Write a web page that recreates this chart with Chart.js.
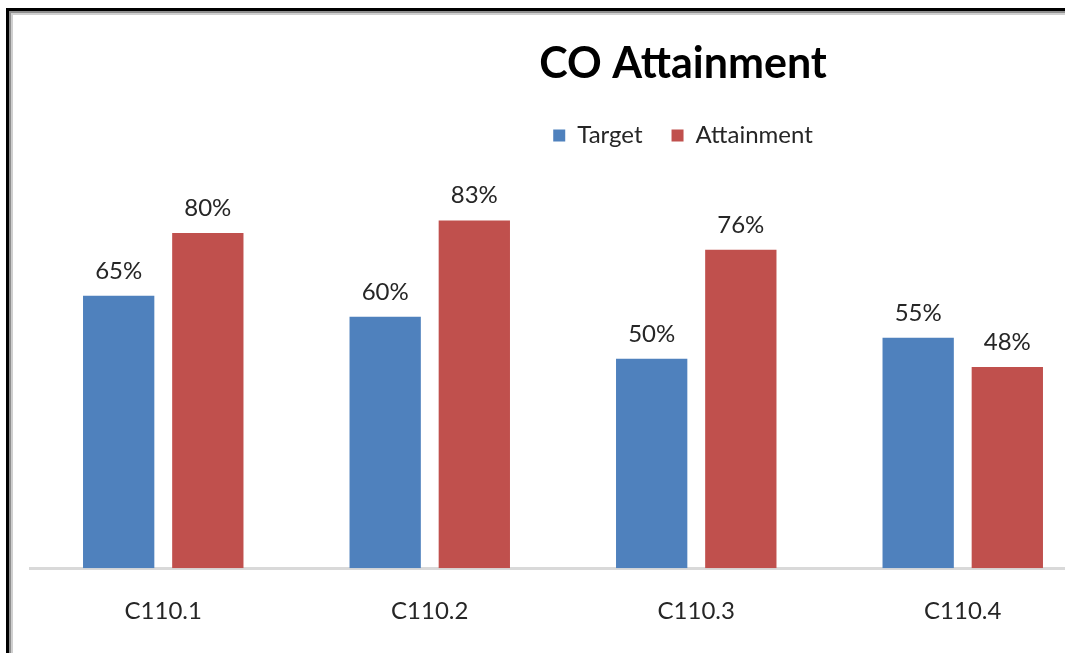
<!DOCTYPE html>
<html>
    <head>
        <title>CO Attainment</title>
        <meta charset="utf-8">
        <style>
            html, body { margin: 0; padding: 0; background: #fff; overflow: hidden; }
            .wrap { position: relative; width: 1065px; height: 653px; overflow: hidden; }
            #coChart { position: absolute; left: 0; top: 0; }
            .frame {
                position: absolute; left: 6px; top: 8px; width: 1200px; height: 800px;
                border-top: 3px solid #000; border-left: 3px solid #000;
                box-shadow: inset 2px 2px 0 #8f8f8f, inset 4px 4px 0 #cfcfcf;
                pointer-events: none;
            }
        </style>
    </head>
    <body>
        <div class="wrap">
            <canvas id="coChart" width="1366" height="655"></canvas>
            <div class="frame"></div>
        </div>
        <script src="https://cdn.jsdelivr.net/npm/chart.js"></script>
        <script>
            const courseOutcomes = ['C110.1', 'C110.2', 'C110.3', 'C110.4'];
            const targetValues = [65, 60, 50, 55];
            const attainmentValues = [80, 83, 76, 48];

            // prints the percent above each bar
            const barLabels = {
                id: 'barLabels',
                afterDatasetsDraw(chart) {
                    const ctx = chart.ctx;
                    ctx.save();
                    ctx.font = '24px Lato';
                    ctx.fillStyle = '#262626';
                    ctx.textAlign = 'center';
                    ctx.textBaseline = 'alphabetic';
                    chart.data.datasets.forEach((ds, i) => {
                        chart.getDatasetMeta(i).data.forEach((bar, j) => {
                            ctx.fillText(ds.data[j] + '%', bar.x, bar.y - 17);
                        });
                    });
                    ctx.restore();
                }
            };

            const coChart = new Chart(document.getElementById('coChart'), {
                type: 'bar',
                data: {
                    labels: courseOutcomes,
                    datasets: [
                        {
                            label: 'Target',
                            data: targetValues,
                            backgroundColor: '#4F81BD',
                            categoryPercentage: 0.669,
                            barPercentage: 0.8
                        },
                        {
                            label: 'Attainment',
                            data: attainmentValues,
                            backgroundColor: '#C0504D',
                            categoryPercentage: 0.669,
                            barPercentage: 0.8
                        }
                    ]
                },
                options: {
                    responsive: false,
                    animation: false,
                    layout: { padding: 0 },
                    plugins: {
                        title: {
                            display: true,
                            text: 'CO Attainment',
                            color: '#000',
                            font: { family: 'Lato', size: 43, weight: 'bold' },
                            padding: { top: 38, bottom: 5 }
                        },
                        legend: {
                            labels: {
                                color: '#262626',
                                font: { family: 'Lato', size: 24 },
                                boxWidth: 12,
                                boxHeight: 12,
                                padding: 29
                            }
                        },
                        tooltip: { enabled: false }
                    },
                    scales: {
                        x: {
                            grid: { display: false, drawTicks: false },
                            border: { display: true, color: '#d9d9d9', width: 3 },
                            ticks: { color: '#262626', font: { family: 'Lato', size: 24 }, padding: 29 }
                        },
                        y: {
                            min: 0,
                            max: 98,
                            grid: { display: false, drawTicks: false },
                            border: { display: false },
                            ticks: { display: false },
                            afterFit(scale) { scale.width = 30; }
                        },
                        // empty space on the right, the plot runs past the picture edge
                        yRight: {
                            position: 'right',
                            grid: { display: false, drawTicks: false },
                            border: { display: false },
                            ticks: { display: false },
                            afterFit(scale) { scale.width = 270; }
                        }
                    }
                },
                plugins: [barLabels]
            });
        </script>
    </body>
</html>
